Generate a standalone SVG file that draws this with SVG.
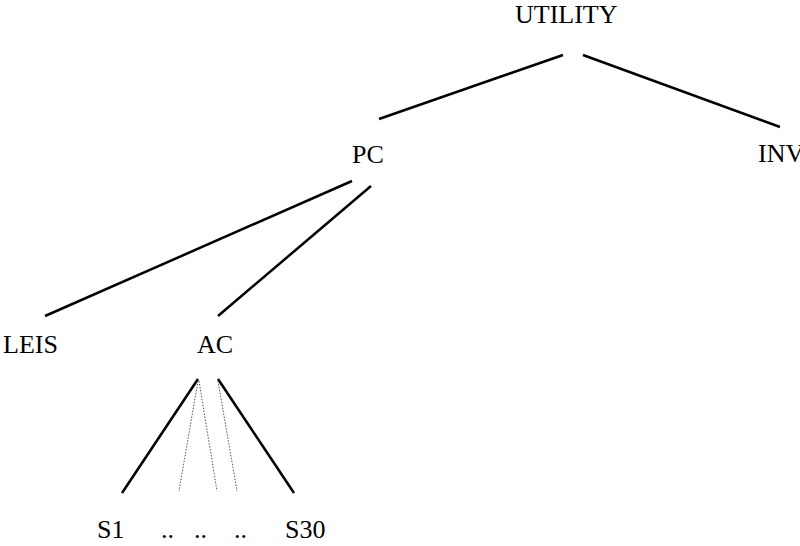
<svg xmlns="http://www.w3.org/2000/svg" width="800" height="546" viewBox="0 0 800 546">
<style>
text{font-family:"Liberation Serif","Times New Roman",serif;font-size:26px;fill:#000}
.e{stroke:#000;stroke-width:2.5;fill:none}
.d{stroke:#555;stroke-width:1;stroke-dasharray:1.5 1.5;fill:none}
</style>
<rect width="800" height="546" fill="#fff"/>
<g id="connectors">
<line class="e" x1="563" y1="55" x2="379" y2="119"/>
<line class="e" x1="583" y1="55" x2="780" y2="127"/>
<line class="e" x1="352" y1="181" x2="45" y2="316"/>
<line class="e" x1="371" y1="186" x2="218" y2="316"/>
<line class="e" x1="198" y1="379" x2="122" y2="493"/>
<line class="e" x1="218" y1="379" x2="294" y2="493"/>
<line class="d" x1="198" y1="381" x2="179" y2="491"/>
<line class="d" x1="199" y1="381" x2="217" y2="491"/>
<line class="d" x1="218" y1="381" x2="237" y2="491"/>
</g>
<g id="utility"><text x="515" y="23">UTILITY</text></g>
<g id="pc"><text x="352" y="163">PC</text></g>
<g id="inv"><text x="758" y="162">INV</text></g>
<g id="leis"><text x="3" y="353">LEIS</text></g>
<g id="ac"><text x="197" y="353">AC</text></g>
<g id="s1"><text x="97" y="538">S1</text></g>
<g id="dots1"><text x="161" y="538">..</text></g>
<g id="dots2"><text x="194" y="538">..</text></g>
<g id="dots3"><text x="234" y="538">..</text></g>
<g id="s30"><text x="285" y="538">S30</text></g>
</svg>
